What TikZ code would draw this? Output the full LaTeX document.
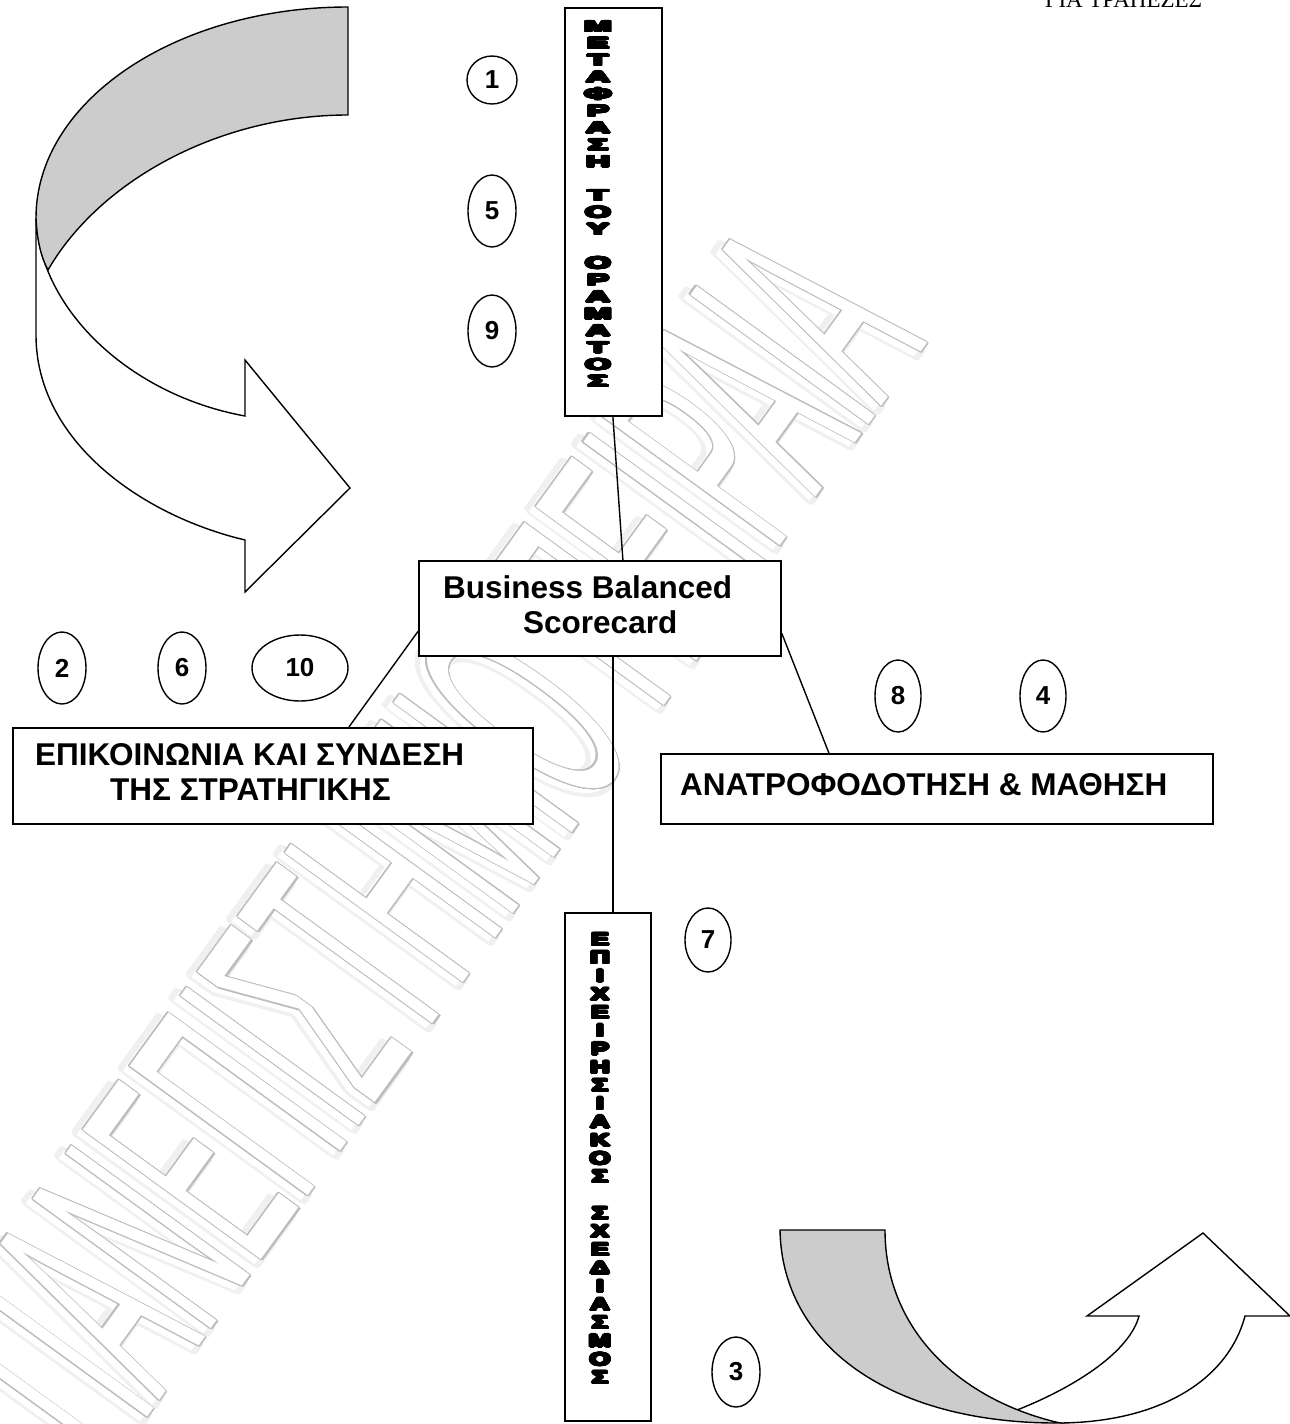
\documentclass[tikz,border=0pt]{standalone}
\usepackage{fontspec}
\usepackage{contour}
\usetikzlibrary{shapes.geometric}
\setmainfont{Liberation Sans}
\newfontfamily\serifgr{Liberation Serif}
\contourlength{1.6pt}
\contournumber{24}
\newcommand{\heavyletter}[3]{\scalebox{#1}[#2]{\contourlength{1.2pt}\contour{black}{#3}}}
\tikzset{
  frame/.style={draw=black, line width=1.8pt, fill=white, inner sep=0pt},
  numell/.style={ellipse, draw=black, line width=1.4pt, fill=white, inner sep=0pt,
    font=\bfseries\fontsize{26}{26}\selectfont},
  link/.style={draw=black, line width=1.4pt},
  ribbon/.style={draw=black, line width=1.4pt, line join=miter},
  backface/.style={ribbon, fill=black!20},
  boxtext/.style={font=\bfseries\fontsize{31.5}{31.5}\selectfont, inner sep=0pt, anchor=base west},
  vletter/.style={font=\bfseries\fontsize{20}{20}\selectfont, inner sep=0pt},
  wmark/.style={rotate=54, inner sep=0pt, font=\fontsize{320}{320}\selectfont},
}
\begin{document}
\begin{tikzpicture}[x=1pt,y=-1pt]
\useasboundingbox (0,0) rectangle (1290,1424);
\fill[white] (0,0) rectangle (1290,1424);

% watermark (soft shadow, then outline)
\node[wmark] (wmshadow) at (425,848)
  {\scalebox{0.37}[1]{\contourlength{6pt}\contour{black!6}{\textcolor{white}{ΠΑΝΕΠΙΣΤΗΜΙΟ ΠΕΙΡΑΙΑ}}}};
\node[wmark] (wm) at (430,842)
  {\scalebox{0.37}[1]{\contour{black!26}{\textcolor{white}{ΠΑΝΕΠΙΣΤΗΜΙΟ ΠΕΙΡΑΙΑ}}}};

% header (clipped at top)
\node[font=\serifgr\fontsize{23}{23}\selectfont, anchor=base west, inner sep=0pt] (hdr) at (1045,8) {ΓΙΑ ΤΡΑΠΕΖΕΣ};

% top-left ribbon arrow
\fill[white] (36,218) -- (36,335) .. controls (36,440) and (140,515) .. (245,540)
  -- (245,592) -- (350,488) -- (245,360) -- (245,416)
  .. controls (130,395) and (40,310) .. (36,218) -- cycle;
\draw[ribbon] (36,218) -- (36,335) .. controls (36,440) and (140,515) .. (245,540)
  -- (245,592) -- (350,488) -- (245,360) -- (245,416)
  .. controls (130,395) and (40,310) .. (36,218);
\filldraw[backface] (348,7) .. controls (176,7) and (36,101) .. (36,218)
  .. controls (37,240) and (41,257) .. (48,270)
  .. controls (100,180) and (220,115) .. (348,115) -- cycle;

% bottom-right ribbon arrow
\fill[white] (1060,1423) .. controls (1160,1422) and (1228,1380) .. (1245,1316)
  -- (1290,1316) -- (1203,1233) -- (1087,1316) -- (1139,1316)
  .. controls (1130,1350) and (1080,1385) .. (1017,1410) -- cycle;
\draw[ribbon] (1060,1423) .. controls (1160,1422) and (1228,1380) .. (1245,1316)
  -- (1290,1316) -- (1203,1233) -- (1087,1316) -- (1139,1316)
  .. controls (1130,1350) and (1080,1385) .. (1017,1410);
\filldraw[backface] (780,1230) -- (885,1230) .. controls (885,1330) and (960,1400) .. (1060,1423)
  .. controls (890,1424) and (782,1345) .. (780,1230) -- cycle;

% boxes
\node[frame, minimum width=97pt, minimum height=408pt, anchor=north west] (vtop) at (564,7) {};
\node[frame, minimum width=86pt, minimum height=508pt, anchor=north west] (vbot) at (564,912) {};
\node[frame, minimum width=362pt, minimum height=95pt, anchor=north west] (bbs) at (418,560) {};
\node[frame, minimum width=520pt, minimum height=96pt, anchor=north west] (epi) at (12,727) {};
\node[frame, minimum width=552pt, minimum height=70pt, anchor=north west] (ana) at (660,753) {};

% connectors
\draw[link] ([xshift=-0.5pt]vtop.south) -- ([xshift=23pt]bbs.north);
\draw[link] ([yshift=-23pt]bbs.west) -- ([xshift=76pt]epi.north);
\draw[link] ([xshift=13pt]bbs.south) -- ([xshift=5pt]vbot.north);
\draw[link] ([yshift=-25pt]bbs.east) -- ([xshift=-108pt]ana.north);

% box texts
\node[boxtext] (bbs1) at (443,598) {Business Balanced};
\node[boxtext] (bbs2) at (523,633) {Scorecard};
\node[boxtext] (epi1) at (35,765) {ΕΠΙΚΟΙΝΩΝΙΑ ΚΑΙ ΣΥΝΔΕΣΗ};
\node[boxtext] (epi2) at (110,800) {ΤΗΣ ΣΤΡΑΤΗΓΙΚΗΣ};
\node[boxtext] (ana1) at (680,795) {ΑΝΑΤΡΟΦΟΔΟΤΗΣΗ \& ΜΑΘΗΣΗ};

% vertical stacked letters, top box
\foreach \l [count=\i] in {Μ,Ε,Τ,Α,Φ,Ρ,Α,Σ,Η}
  \node[vletter] (ta\i) at (598,10.1+16.9*\i) {\heavyletter{1.65}{0.8}{\l}};
\foreach \l [count=\i from 11] in {Τ,Ο,Υ}
  \node[vletter] (tb\i) at (598,10.1+16.9*\i) {\heavyletter{1.65}{0.8}{\l}};
\foreach \l [count=\i from 15] in {Ο,Ρ,Α,Μ,Α,Τ,Ο,Σ}
  \node[vletter] (tc\i) at (598,10.1+16.9*\i) {\heavyletter{1.65}{0.8}{\l}};

% vertical stacked letters, bottom box
\foreach \l [count=\i] in {Ε,Π,Ι,Χ,Ε,Ι,Ρ,Η,Σ,Ι,Α,Κ,Ο,Σ}
  \node[vletter] (ba\i) at (600,921.75+18.25*\i) {\heavyletter{1.35}{0.88}{\l}};
\foreach \l [count=\i from 16] in {Σ,Χ,Ε,Δ,Ι,Α,Σ,Μ,Ο,Σ}
  \node[vletter] (bb\i) at (600,921.75+18.25*\i) {\heavyletter{1.35}{0.88}{\l}};

% numbered ellipses
\node[numell, minimum width=50pt, minimum height=48pt] (n1) at (492,80) {\raisebox{-5pt}{1}};
\node[numell, minimum width=48pt, minimum height=72pt] (n5) at (492,211) {5};
\node[numell, minimum width=48pt, minimum height=72pt] (n9) at (492,331) {9};
\node[numell, minimum width=48pt, minimum height=72pt] (n2) at (62,668) {2};
\node[numell, minimum width=48pt, minimum height=72pt] (n6) at (182,668) {6};
\node[numell, minimum width=96pt, minimum height=66pt] (n10) at (300,668) {10};
\node[numell, minimum width=46pt, minimum height=72pt] (n8) at (898,696) {8};
\node[numell, minimum width=46pt, minimum height=72pt] (n4) at (1043,696) {4};
\node[numell, minimum width=46pt, minimum height=64pt] (n7) at (708,940) {7};
\node[numell, minimum width=48pt, minimum height=70pt] (n3) at (736,1372) {3};
\end{tikzpicture}
\end{document}
